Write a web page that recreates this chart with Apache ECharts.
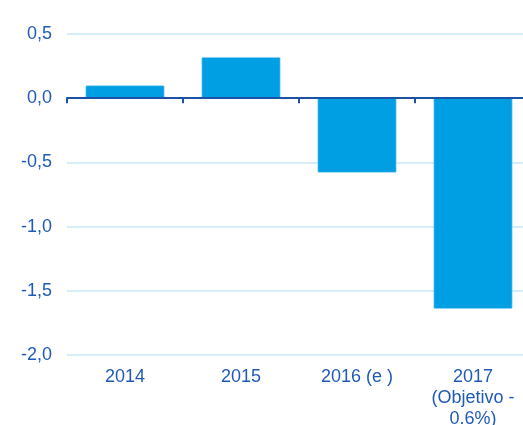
<!DOCTYPE html>
<html>
<head>
<meta charset="utf-8">
<script src="https://cdn.jsdelivr.net/npm/echarts@6/dist/echarts.min.js"></script>
<style>
  html, body { margin: 0; padding: 0; background: #fff; }
  #chart { width: 523px; height: 425px; }
</style>
</head>
<body>
<div id="chart"></div>
<script>
// datos del gráfico
const categories = ['2014', '2015', '2016 (e )', '2017\n(Objetivo -\n0.6%)']
const values = [0.10, 0.32, -0.58, -1.64]
const yTicks = { min: -2.0, max: 0.5, step: 0.5 }

const labelColor = '#1f5bb5'
let myChart = echarts.init(document.getElementById('chart'))
let option = {
  animation: false,
  grid: {
    left: 67,
    right: -8,
    top: 34,
    bottom: 70,
    outerBoundsMode: 'none',
    containLabel: false
  },
  xAxis: [{
    type: 'category',
    data: categories,
    axisLine: {
      onZero: true,
      lineStyle: { color: '#1a52a8', width: 2 }
    },
    axisTick: {
      show: true,
      length: 5,
      lineStyle: { color: '#1a52a8', width: 2 }
    },
    axisLabel: { show: false },
    z: 10
  }, {
    type: 'category',
    data: categories,
    position: 'bottom',
    axisLine: { show: false, onZero: false },
    axisTick: { show: false },
    axisLabel: {
      color: labelColor,
      fontFamily: 'Liberation Sans',
      fontSize: 18,
      lineHeight: 21,
      margin: 12,
      verticalAlign: 'top',
      interval: 0
    }
  }],
  yAxis: {
    type: 'value',
    min: yTicks.min,
    max: yTicks.max,
    interval: yTicks.step,
    axisLine: { show: false },
    axisTick: { show: false },
    splitLine: {
      lineStyle: { color: '#c8e9f8', width: 1.5 }
    },
    axisLabel: {
      color: labelColor,
      fontFamily: 'Liberation Sans',
      fontSize: 18,
      margin: 15,
      formatter: function (v) {
        return v.toFixed(1).replace('.', ',')
      }
    }
  },
  series: [{
    type: 'bar',
    data: values,
    barWidth: '68%',
    itemStyle: {
      color: '#009fe3',
      borderColor: '#8fd3f1',
      borderWidth: 0.6,
      borderRadius: 1
    }
  }]
}
myChart.setOption(option)
</script>
</body>
</html>
